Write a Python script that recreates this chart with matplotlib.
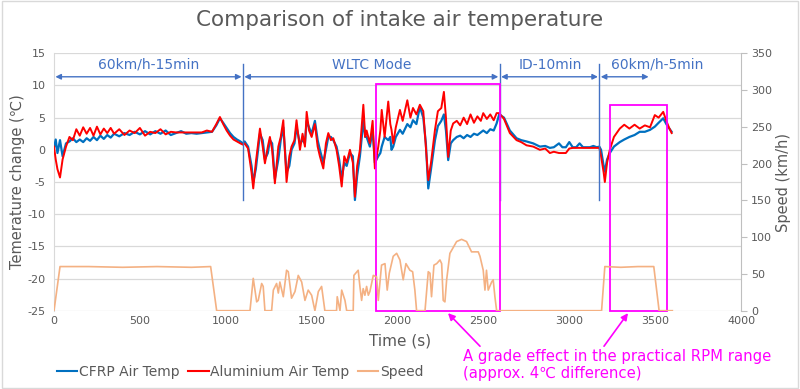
import matplotlib
matplotlib.use("Agg")
import matplotlib.pyplot as plt
from matplotlib.patches import Rectangle, FancyArrowPatch
from matplotlib.lines import Line2D

# ── data ──────────────────────────────────────────────────────────
time_s = [
    0, 10, 20, 35, 50, 70, 90, 110, 130, 150, 170, 190, 210, 230, 250, 270, 290, 310,
    330, 350, 380, 410, 440, 470, 500, 530, 560, 590, 620, 650, 680, 710, 740, 770,
    800, 830, 860, 890, 920, 945, 966, 985, 1005, 1025, 1045, 1065, 1085, 1100,
    1110, 1130, 1150, 1160, 1175, 1199, 1215, 1228, 1245, 1257, 1270, 1286, 1306, 1320,
    1335, 1354, 1370, 1383, 1400, 1412, 1432, 1447, 1461, 1471, 1485, 1500, 1519, 1535,
    1548, 1568, 1583, 1597, 1612, 1626, 1645, 1660, 1675, 1690, 1704, 1723, 1740, 1752,
    1765, 1781, 1801, 1812, 1820, 1839, 1855, 1868,
    1888, 1900, 1908, 1925, 1946, 1958, 1965, 1975, 1990, 2014, 2030, 2057, 2075, 2090,
    2110, 2130, 2150, 2165, 2179, 2195, 2218, 2235, 2255, 2270, 2282, 2295, 2310, 2324,
    2345, 2365, 2385, 2405, 2425, 2445, 2465, 2485, 2499, 2520, 2540, 2560, 2577, 2592,
    2620, 2654, 2693, 2720, 2751, 2790, 2829, 2860, 2887, 2910, 2940, 2960, 2980, 3000,
    3020, 3040, 3060, 3080, 3100, 3120, 3140, 3160, 3175,
    3185, 3200, 3207, 3220, 3236, 3260, 3294, 3320, 3350, 3380, 3410, 3440, 3470, 3498,
    3520, 3547, 3565, 3580, 3596,
]
cfrp_temp = [
    0.3, 1.6, -0.5, 1.5, -1.0, 1.0, 1.3, 1.8, 1.2, 1.6, 1.2, 1.8, 1.4, 2.0, 1.5, 2.2, 1.7, 2.3,
    1.9, 2.5, 2.1, 2.6, 2.3, 2.8, 2.4, 2.9, 2.4, 2.9, 2.5, 3.0, 2.3, 2.6, 2.9, 2.5,
    2.6, 2.5, 2.6, 2.7, 2.8, 3.8, 4.9, 4.2, 3.4, 2.6, 2.0, 1.6, 1.3, 1.0,
    1.3, 0.5, -2.5, -5.0, -3.0, 2.5, 1.5, -1.5, -0.5, 1.5, 1.0, -4.5, -1.5, 1.5,
    3.5, -3.5, -2.5, 0.0, 1.0, 3.5, 1.0, 1.5, 1.0, 4.5, 3.5, 2.5, 4.5, 1.5,
    0.0, -2.0, 0.0, 2.0, 2.0, 1.5, 0.5, -1.5, -4.5, -2.0, -2.5, -0.5, -1.0, -7.8,
    -4.0, -1.0, 4.5, 2.0, 2.0, 0.5, 3.0, -2.0,
    -1.0, -0.5, 0.5, 2.0, 1.5, 2.0, 0.0, 0.5, 2.0, 3.1, 2.5, 4.0, 3.5, 4.6,
    4.0, 6.7, 5.0, 1.0, -6.0, -3.0, 1.5, 3.7, 4.5, 5.5, 3.0, -1.6, 1.0, 1.5,
    2.0, 2.2, 1.8, 2.3, 2.0, 2.5, 2.3, 2.7, 3.0, 2.6, 3.2, 3.0, 4.1, 5.5,
    5.0, 3.0, 1.8, 1.5, 1.3, 1.0, 0.5, 0.6, 0.3, 0.4, 1.0, 0.4, 0.4, 1.2,
    0.4, 0.4, 1.0, 0.4, 0.4, 0.4, 0.6, 0.4, 0.5,
    0.0, -2.5, -3.4, -1.5, -0.5, 0.5, 1.2, 1.6, 2.0, 2.3, 2.8, 2.8, 3.1, 3.6,
    4.2, 4.9, 4.0, 3.4, 2.8,
]
alu_temp = [
    0.5, -1.5, -3.0, -4.3, -1.5, 0.5, 2.0, 1.5, 3.2, 2.2, 3.5, 2.5, 3.4, 2.2, 3.6, 2.4, 3.3, 2.6,
    3.4, 2.5, 3.2, 2.3, 3.0, 2.6, 3.4, 2.2, 2.8, 2.6, 3.2, 2.4, 2.8, 2.7, 2.7, 2.7,
    2.7, 2.7, 2.7, 3.0, 2.8, 4.0, 5.1, 4.0, 3.0, 2.2, 1.6, 1.3, 1.0, 0.8,
    1.0, 0.2, -3.5, -6.0, -2.0, 3.3, 0.5, -2.1, 0.5, 2.0, 0.0, -5.2, 0.5, 2.0,
    4.6, -5.0, -1.0, 0.5, 1.5, 4.6, 0.0, 2.5, 0.5, 5.9, 3.0, 2.0, 4.0, 0.5,
    -1.0, -2.9, 1.0, 2.6, 1.5, 1.8, 0.0, -2.5, -5.7, -1.0, -2.0, 0.0, -2.0, -7.3,
    -2.5, 0.0, 7.0, 2.0, 3.0, 1.0, 4.5, -2.9,
    0.5, 3.0, 6.2, 2.0, 7.5, 4.0, 3.1, 1.0, 3.5, 6.2, 4.5, 7.7, 5.0, 6.5,
    5.5, 7.0, 6.0, 0.5, -4.7, -2.0, 3.1, 6.0, 6.5, 9.0, 5.0, -1.1, 3.0, 4.1,
    4.5, 3.8, 5.0, 4.0, 5.5, 4.2, 5.2, 4.5, 5.7, 4.8, 5.5, 4.6, 5.7, 5.7,
    4.8, 2.6, 1.5, 1.2, 0.7, 0.5, 0.0, 0.2, -0.5, -0.3, -0.5, -0.5, -0.5, 0.2,
    0.3, 0.3, 0.3, 0.3, 0.3, 0.3, 0.3, 0.3, 0.3,
    -1.0, -3.5, -5.0, -2.0, 0.0, 2.0, 3.3, 3.9, 3.3, 3.9, 3.3, 3.8, 3.5, 5.4,
    5.0, 5.9, 4.5, 3.5, 2.6,
]

speed_time = [
    0, 35, 200, 400, 600, 800, 912, 947, 1141, 1160, 1180, 1189, 1209, 1218, 1228, 1267,
    1277, 1296, 1306, 1315, 1335, 1354, 1364, 1383, 1403, 1422, 1442, 1461, 1480, 1500,
    1519, 1539, 1558, 1577, 1645, 1649, 1665, 1675, 1694, 1704, 1742, 1746, 1771, 1781,
    1791, 1800, 1810, 1820, 1830, 1839, 1859, 1878, 1888, 1907, 1927, 1940, 1952, 1975,
    1995, 2014, 2033, 2049, 2072, 2088, 2101, 2111, 2160, 2179, 2189, 2198, 2212, 2228,
    2247, 2257, 2266, 2276, 2286, 2305, 2344, 2373, 2402, 2431, 2451, 2470, 2480, 2499,
    2509, 2518, 2528, 2548, 2557, 2567, 2577, 3188, 3207, 3300, 3400, 3492, 3523, 3600,
]
speed_kmh = [
    0, 60, 60, 59, 60, 59, 60, 0, 0, 44, 12, 14, 37, 33, 0, 0,
    28, 37, 24, 39, 19, 55, 53, 17, 26, 48, 39, 14, 28, 21,
    0, 26, 33, 0, 0, 19, 0, 28, 14, 0, 0, 48, 55, 33,
    14, 30, 21, 33, 21, 26, 48, 46, 14, 62, 64, 28, 51, 74,
    78, 69, 42, 64, 55, 53, 28, 0, 0, 53, 51, 19, 62, 64,
    69, 64, 14, 12, 42, 78, 94, 97, 94, 80, 80, 80, 74, 55,
    28, 55, 28, 39, 42, 19, 0, 0, 60, 59, 60, 60, 0, 0,
]

x_ticks = [0, 500, 1000, 1500, 2000, 2500, 3000, 3500, 4000]
y_ticks = [-25, -20, -15, -10, -5, 0, 5, 10, 15]
speed_ticks = [0, 50, 100, 150, 200, 250, 300, 350]

# test sections: (start, end, label, label centre)
sections = [(0, 1100, "60km/h-15min", 550), (1100, 2595, "WLTC Mode", 1850),
            (2595, 3175, "ID-10min", 2887), (3175, 3470, "60km/h-5min", 3510)]
dividers = [1100, 2595, 3175]
# highlighted windows: (x0, x1, top)
boxes = [(1875, 2597, 10.3), (3237, 3568, 7.0)]

# ── style ─────────────────────────────────────────────────────────
BLUE = "#0070C0"
RED = "#FF0000"
ORANGE = "#F4B183"
NOTE = "#4472C4"
MAGENTA = "#FF00FF"
GREY = "#595959"
GRID = "#D9D9D9"

plt.rcParams["font.family"] = ["DejaVu Sans"]
plt.rcParams["axes.unicode_minus"] = False

fig = plt.figure(figsize=(8.0, 3.89), dpi=100, facecolor="white")
fig.add_artist(Rectangle((0.002, 0.003), 0.996, 0.994, transform=fig.transFigure,
                         facecolor="none", edgecolor=GRID, lw=1.0))

ax = fig.add_axes([0.0675, 0.2013, 0.8588, 0.6617])
ax2 = ax.twinx()

ax.plot(time_s, cfrp_temp, color=BLUE, lw=1.6, zorder=3)
ax.plot(time_s, alu_temp, color=RED, lw=1.4, zorder=4)
ax2.plot(speed_time, speed_kmh, color=ORANGE, lw=1.2, zorder=3)

ax.set_xlim(0, 4000)
ax.set_ylim(-25, 15)
ax2.set_ylim(0, 350)
ax.set_xticks(x_ticks)
ax.set_yticks(y_ticks)
ax2.set_yticks(speed_ticks)
ax.yaxis.grid(True, color=GRID, lw=0.9)
ax.set_axisbelow(True)

for a in (ax, ax2):
    for s in a.spines.values():
        s.set_visible(False)
    a.tick_params(colors=GREY, labelsize=8, length=0)
ax.spines["left"].set_visible(True)
ax.spines["left"].set_color(GRID)
ax2.spines["right"].set_visible(True)
ax2.spines["right"].set_color("#BFBFBF")
ax2.tick_params(axis="y", length=4, color="#BFBFBF", pad=3)
ax.tick_params(axis="y", pad=6)
ax.tick_params(axis="x", pad=4)

# section arrows and dividers
for x0, x1, label, xc in sections:
    ax.add_patch(FancyArrowPatch((x0, 11.35), (x1, 11.35), arrowstyle="<|-|>",
                                 mutation_scale=8, lw=1.0, color=NOTE,
                                 shrinkA=1, shrinkB=1, zorder=6))
    ax.text(xc, 13.2, label, color=NOTE, fontsize=10,
            ha="center", va="center", zorder=6)
for xd in dividers:
    ax.plot([xd, xd], [-7.8, 13.4], color=NOTE, lw=1.0, zorder=5)

for x0, x1, top in boxes:
    ax.add_patch(Rectangle((x0, -25), x1 - x0, top + 25, facecolor="none",
                           edgecolor=MAGENTA, lw=1.3, zorder=7, clip_on=False))

# titles and labels
fig.text(0.5, 0.949, "Comparison of intake air temperature", color=GREY,
         fontsize=15.5, ha="center", va="center")
fig.text(0.5, 0.123, "Time (s)", color=GREY, fontsize=11, ha="center", va="center")
fig.text(0.022, 0.533, "Temerature change (℃)", color=GREY, fontsize=10.5,
         rotation=90, ha="center", va="center")
fig.text(0.979, 0.53, "Speed (km/h)", color=GREY, fontsize=10.5,
         rotation=90, ha="center", va="center")

# note with arrows
fig.text(0.579, 0.062, "A grade effect in the practical RPM range\n(approx. 4℃ difference)",
         color=MAGENTA, fontsize=10.7, ha="left", va="center", linespacing=1.22)
for tail, head in [((0.600, 0.110), (0.560, 0.195)), ((0.755, 0.110), (0.785, 0.195))]:
    fig.add_artist(FancyArrowPatch(tail, head, transform=fig.transFigure,
                                   arrowstyle="-|>", mutation_scale=10, lw=1.2,
                                   color=MAGENTA, shrinkA=0, shrinkB=0))

# legend
handles = [Line2D([], [], color=BLUE, lw=1.5), Line2D([], [], color=RED, lw=1.5),
           Line2D([], [], color=ORANGE, lw=1.5)]
labels = ["CFRP Air Temp", "Aluminium Air Temp", "Speed"]
leg = fig.legend(handles, labels, loc="center left", bbox_to_anchor=(0.062, 0.044),
                 ncol=3, frameon=False, fontsize=10, handlelength=1.5,
                 handletextpad=0.1, columnspacing=0.6, borderpad=0)
for t in leg.get_texts():
    t.set_color(GREY)

fig.savefig("out.png", dpi=100, facecolor="white")
